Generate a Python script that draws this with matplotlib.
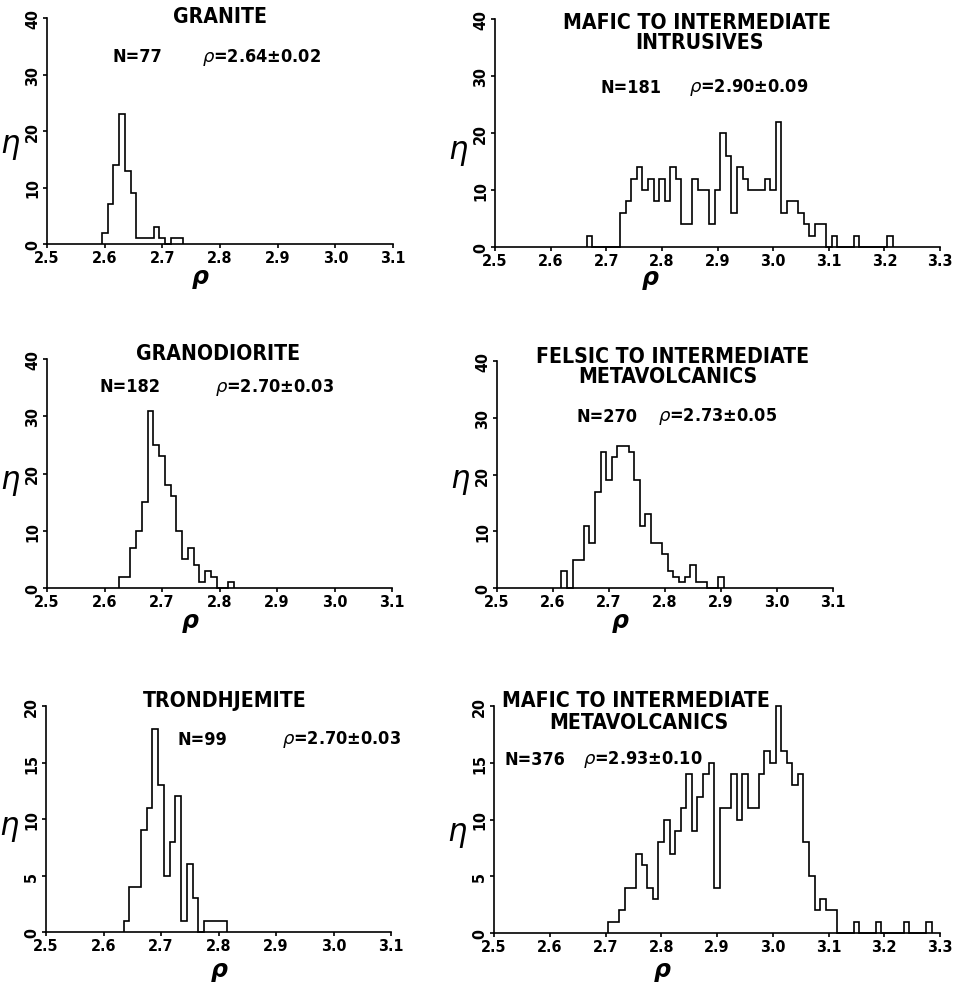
import matplotlib
matplotlib.use('Agg')
import matplotlib.pyplot as plt
from matplotlib import font_manager as fm
import numpy as np

# ---------------- data (bin width 0.01, first bin centre given) ----------------
granite_start = 2.60
granite_counts = [2, 7, 14, 23, 13, 9, 1, 1, 1, 3, 1, 0, 1, 1]

mafic_intr_start = 2.67
mafic_intr_counts = [2, 0, 0, 0, 0, 0, 6, 8, 12, 14, 10, 12, 8, 12, 8, 14, 12, 4, 4, 12,
                     10, 10, 4, 10, 20, 16, 6, 14, 12, 10, 10, 10, 12, 10, 22, 6, 8, 8, 6,
                     4, 2, 4, 4, 0, 2, 0, 0, 0, 2, 0, 0, 0, 0, 0, 2]

granodiorite_start = 2.63
granodiorite_counts = [2, 2, 7, 10, 15, 31, 25, 23, 18, 16, 10, 5, 7, 4, 1, 3, 2, 0, 0, 1]

felsic_start = 2.62
felsic_counts = [3, 0, 5, 5, 11, 8, 17, 24, 19, 23, 25, 25, 24, 19, 11, 13, 8, 8, 6, 3,
                 2, 1, 2, 4, 1, 1, 0, 0, 2]

trondhjemite_start = 2.64
trondhjemite_counts = [1, 4, 4, 9, 11, 18, 13, 5, 8, 12, 1, 6, 3, 0, 1, 1, 1, 1]

mafic_vol_start = 2.71
mafic_vol_counts = [1, 1, 2, 4, 4, 7, 6, 4, 3, 8, 10, 7, 9, 11, 14, 9, 12, 14, 15, 4,
                    11, 11, 14, 10, 14, 11, 11, 14, 16, 15, 20, 16, 15, 13, 14, 8, 5, 2, 3, 2,
                    2, 0, 0, 0, 1, 0, 0, 0, 1, 0, 0, 0, 0, 1, 0, 0, 0, 1]

titles = [["GRANITE"], ["MAFIC TO INTERMEDIATE", "INTRUSIVES"], ["GRANODIORITE"],
          ["FELSIC TO INTERMEDIATE", "METAVOLCANICS"], ["TRONDHJEMITE"],
          ["MAFIC TO INTERMEDIATE", "METAVOLCANICS"]]
n_labels = ["N=77", "N=181", "N=182", "N=270", "N=99", "N=376"]
rho_labels = ["2.64\u00b10.02", "2.90\u00b10.09", "2.70\u00b10.03", "2.73\u00b10.05",
              "2.70\u00b10.03", "2.93\u00b10.10"]
x_max = [3.1, 3.3, 3.1, 3.1, 3.1, 3.3]
y_max = [40, 40, 40, 40, 20, 20]
y_step = [10, 10, 10, 10, 5, 5]

starts = [granite_start, mafic_intr_start, granodiorite_start, felsic_start,
          trondhjemite_start, mafic_vol_start]
counts = [granite_counts, mafic_intr_counts, granodiorite_counts, felsic_counts,
          trondhjemite_counts, mafic_vol_counts]

# ---------------- fonts: prefer a narrow bold face ----------------
names = {f.name for f in fm.fontManager.ttflist}
if 'Liberation Sans Narrow' in names:
    FAM, STRETCH = 'Liberation Sans Narrow', 'normal'
    s_title, s_note, s_tick = 16.5, 15, 12.5
else:
    path = fm.findfont(fm.FontProperties(family='DejaVu Sans', weight='bold',
                                         stretch='condensed'))
    if 'Condensed' in path:
        FAM, STRETCH = 'DejaVu Sans', 'condensed'
        s_title, s_note, s_tick = 15.2, 13, 11.5
    else:
        FAM, STRETCH = 'DejaVu Sans', 'normal'
        s_title, s_note, s_tick = 14, 12, 10.5
plt.rcParams['font.family'] = [FAM, 'DejaVu Sans']
plt.rcParams['mathtext.fontset'] = 'dejavusans'

# ---------------- layout (pixel geometry) ----------------
W, H = 980, 987
fig = plt.figure(figsize=(W / 100, H / 100), dpi=100)

# L, R, T(ymax), B(y=0)
rects = [(47, 393, 19, 245), (495, 940, 20, 248), (47, 392, 360, 589),
         (497, 833, 362, 589), (46, 391, 707, 933), (494, 940, 707, 934)]

# text centres in pixels
title_pos = [[(220, 17)], [(697, 23), (699, 43)], [(218, 354)],
             [(673, 357), (668, 377)], [(225, 701)], [(636, 701), (639, 723)]]
n_pos = [(137, 57), (631, 88), (130, 387), (607, 417), (202, 740), (535, 760)]
r_pos = [(262, 57), (749, 88), (275, 387), (718, 417), (342, 740), (643, 760)]
eta_y = [146, 151, 482, 481, 828, 834]
rho_ax_pos = [(200, 277), (650, 278), (190, 621), (620, 621), (219, 970), (662, 970)]


def fx(px):
    return px / W


def fy(py):
    return 1 - py / H


kw = dict(fontweight='bold', fontstretch=STRETCH, ha='center', va='center')
for i, (L, R, T, B) in enumerate(rects):
    ax = fig.add_axes([fx(L), fy(B), (R - L) / W, (B - T) / H])
    n = len(counts[i])
    centres = starts[i] + 0.01 * np.arange(n)
    edges = np.append(centres - 0.005, centres[-1] + 0.005)
    ax.stairs(counts[i], edges, baseline=0, color='black', lw=1.2, clip_on=False)
    ax.set_xlim(2.5, x_max[i])
    ax.set_ylim(0, y_max[i])
    xt = np.round(np.arange(2.5, x_max[i] + 0.001, 0.1), 1)
    ax.set_xticks(xt)
    ax.set_xticklabels([f"{v:.1f}" for v in xt])
    yt = np.arange(0, y_max[i] + 1, y_step[i])
    ax.set_yticks(yt)
    ax.set_yticklabels([str(v) for v in yt])
    for s in ['top', 'right']:
        ax.spines[s].set_visible(False)
    for s in ['left', 'bottom']:
        ax.spines[s].set_linewidth(1.2)
    ax.tick_params(axis='x', direction='out', length=3, width=1.2, pad=1, labelsize=s_tick)
    ax.tick_params(axis='y', direction='out', length=3, width=1.2, pad=2, labelsize=s_tick,
                   labelrotation=90)
    for lab in ax.get_xticklabels() + ax.get_yticklabels():
        lab.set_fontweight('bold')
        lab.set_fontstretch(STRETCH)
    for lab in ax.get_yticklabels():
        lab.set_va('center')

    for txt, (px, py) in zip(titles[i], title_pos[i]):
        fig.text(fx(px), fy(py), txt, fontsize=s_title, **kw)
    fig.text(fx(n_pos[i][0]), fy(n_pos[i][1]), n_labels[i], fontsize=s_note, **kw)
    fig.text(fx(r_pos[i][0]), fy(r_pos[i][1]), r"$\rho$=" + rho_labels[i],
             fontsize=s_note, **kw)
    fig.text(fx(L - 37), fy(eta_y[i]), "\u03b7", ha='center', va='center',
             fontsize=22, fontstyle='italic', family='DejaVu Sans')
    fig.text(fx(rho_ax_pos[i][0]), fy(rho_ax_pos[i][1]), "\u03c1", ha='center',
             va='center', fontsize=17, fontweight='bold', fontstyle='italic',
             family='DejaVu Sans')

fig.savefig('out.png', dpi=100)
